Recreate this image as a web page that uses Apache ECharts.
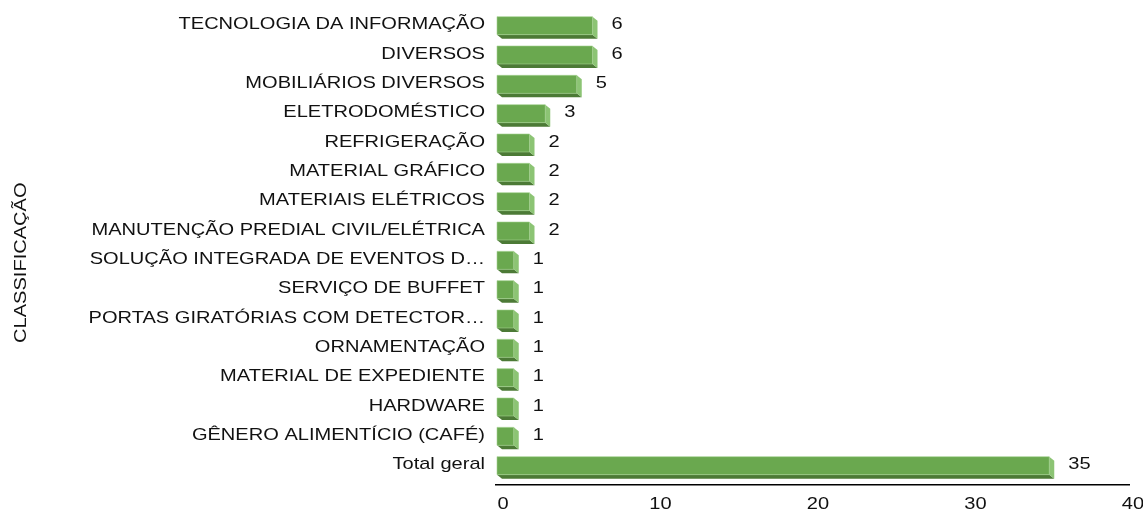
<!DOCTYPE html>
<html>
<head>
<meta charset="utf-8">
<script src="https://cdn.jsdelivr.net/npm/echarts@6/dist/echarts.min.js"></script>
<style>
html,body{margin:0;padding:0;background:#fff;}
#chart{width:1143px;height:512px;}
</style>
</head>
<body>
<div id="chart"></div>
<script>
const categories = [
  "TECNOLOGIA DA INFORMAÇÃO",
  "DIVERSOS",
  "MOBILIÁRIOS DIVERSOS",
  "ELETRODOMÉSTICO",
  "REFRIGERAÇÃO",
  "MATERIAL GRÁFICO",
  "MATERIAIS ELÉTRICOS",
  "MANUTENÇÃO PREDIAL CIVIL/ELÉTRICA",
  "SOLUÇÃO INTEGRADA DE EVENTOS D…",
  "SERVIÇO DE BUFFET",
  "PORTAS GIRATÓRIAS COM DETECTOR…",
  "ORNAMENTAÇÃO",
  "MATERIAL DE EXPEDIENTE",
  "HARDWARE",
  "GÊNERO ALIMENTÍCIO (CAFÉ)",
  "Total geral"
];
const values = [6, 6, 5, 3, 2, 2, 2, 2, 1, 1, 1, 1, 1, 1, 1, 35];
const xTicks = [0, 10, 20, 30, 40];
const axisTitle = "CLASSIFICAÇÃO";

const FONT = "'Liberation Sans', Arial, sans-serif";
const FS = 17;
const SX = 1.18;
const TEXT_COLOR = '#111';
const chart = echarts.init(document.getElementById('chart'), null, {renderer: 'canvas'});

function barItem(params, api) {
  const cat = api.value(0);
  const v = api.value(1);
  const p0 = api.coord([0, cat]);
  const p1 = api.coord([v, cat]);
  const x0 = p0[0], xv = p1[0], c = p0[1];
  const dx = 5, dy = 4;
  const top = c - 8, bot = c + 10;
  const fl = x0 - 6, fr = xv - dx;
  return {
    type: 'group',
    children: [
      { type: 'polygon', shape: { points: [[fl, bot], [fr, bot], [fr + dx, bot + dy], [fl + dx, bot + dy]] },
        style: { fill: '#4c7a36' } },
      { type: 'polygon', shape: { points: [[fr, top], [fr + dx, top + dy], [fr + dx, bot + dy], [fr, bot]] },
        style: { fill: '#8cc474' } },
      { type: 'rect', shape: { x: fl, y: top, width: fr - fl, height: bot - top },
        style: { fill: '#6aa84f', stroke: '#a4d290', lineWidth: 0.6 } },
      { type: 'text', x: xv + 14, y: c, scaleX: SX,
        style: { x: 0, y: 0, text: String(v), fill: TEXT_COLOR, font: FS + 'px ' + FONT,
          verticalAlign: 'middle', align: 'left' } }
    ]
  };
}

function catLabelItem(params, api) {
  const cat = api.value(0);
  const p = api.coord([0, cat]);
  return {
    type: 'text', x: p[0] - 18, y: p[1], scaleX: SX,
    style: { x: 0, y: 0, text: categories[cat], fill: TEXT_COLOR, font: FS + 'px ' + FONT,
      verticalAlign: 'middle', align: 'right' }
  };
}

function tickLabelItem(params, api) {
  const v = api.value(0);
  const p = api.coord([v, categories.length - 1]);
  const gridBottom = params.coordSys.y + params.coordSys.height;
  return {
    type: 'text', x: p[0], y: gridBottom + 16, scaleX: SX,
    style: { x: 0, y: 0, text: String(v), fill: TEXT_COLOR, font: FS + 'px ' + FONT,
      verticalAlign: 'top', align: 'center' }
  };
}

chart.setOption({
  animation: false,
  backgroundColor: '#fff',
  grid: { left: 503, right: 10, top: 10, bottom: 32.67, containLabel: false },
  xAxis: {
    type: 'value', min: xTicks[0], max: xTicks[xTicks.length - 1], interval: 10,
    axisLine: { show: false }, axisTick: { show: false },
    splitLine: { show: false }, axisLabel: { show: false }
  },
  yAxis: {
    type: 'category', data: categories, inverse: true,
    axisLine: { show: false }, axisTick: { show: false },
    axisLabel: { show: false }
  },
  series: [
    { type: 'custom', renderItem: barItem, encode: { x: 1, y: 0 },
      data: values.map((v, i) => [i, v]), clip: false, silent: true },
    { type: 'custom', renderItem: catLabelItem, encode: { y: 0 },
      data: categories.map((c, i) => [i]), clip: false, silent: true },
    { type: 'custom', renderItem: tickLabelItem, encode: { x: 0 },
      data: xTicks.map(t => [t]), clip: false, silent: true }
  ]
});

// axis line and rotated axis title
const gridBottomY = 512 - 32.67;
const zeroX = chart.convertToPixel({ xAxisIndex: 0 }, 0);
const maxX = chart.convertToPixel({ xAxisIndex: 0 }, xTicks[xTicks.length - 1]);
const topY = chart.convertToPixel({ yAxisIndex: 0 }, 0);
const botY = chart.convertToPixel({ yAxisIndex: 0 }, categories.length - 1);
chart.setOption({
  graphic: [
    { type: 'line', shape: { x1: zeroX - 8, y1: gridBottomY + 5.5, x2: maxX - 3, y2: gridBottomY + 5.5 },
      style: { stroke: '#000', lineWidth: 1.5 }, silent: true },
    { type: 'text', x: 21, y: (topY + botY) / 2 + 18, rotation: Math.PI / 2, scaleX: SX,
      style: { x: 0, y: 0, text: axisTitle, fill: TEXT_COLOR, font: FS + 'px ' + FONT,
        align: 'center', verticalAlign: 'middle' }, silent: true }
  ]
});
</script>
</body>
</html>
